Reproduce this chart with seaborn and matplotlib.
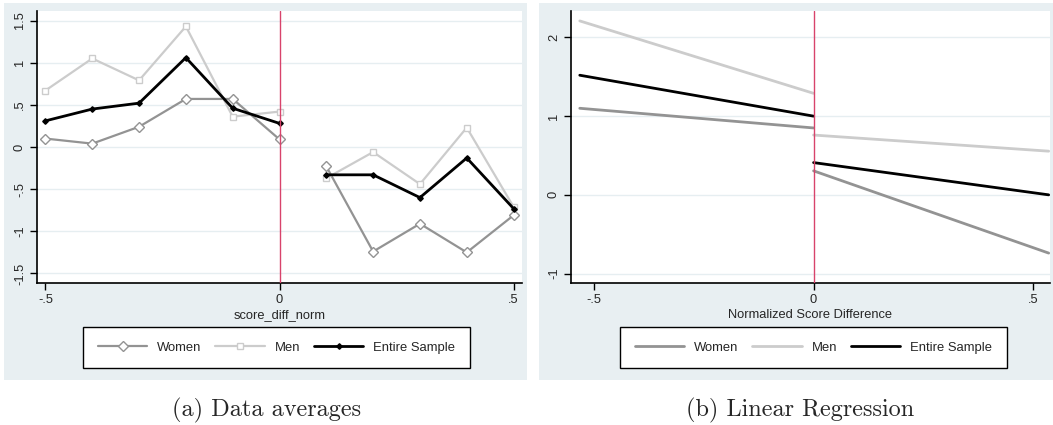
import numpy as np
import pandas as pd
import seaborn as sns
import matplotlib.pyplot as plt
from matplotlib.patches import Rectangle
from matplotlib.lines import Line2D

# panel (a): bin averages left and right of the cutoff
x_left = [-0.5, -0.4, -0.3, -0.2, -0.1, 0.0]
x_right = [0.1, 0.2, 0.3, 0.4, 0.5]
women_left = [0.10, 0.04, 0.24, 0.57, 0.57, 0.09]
women_right = [-0.23, -1.24, -0.91, -1.25, -0.81]
men_left = [0.67, 1.05, 0.79, 1.43, 0.36, 0.42]
men_right = [-0.37, -0.06, -0.44, 0.23, -0.71]
all_left = [0.31, 0.45, 0.52, 1.06, 0.46, 0.28]
all_right = [-0.33, -0.33, -0.60, -0.13, -0.73]

# panel (b): fitted lines, endpoints on each side
fit_x_left = [-0.533, 0.0]
fit_x_right = [0.0, 0.536]
women_fit_left = [1.10, 0.85]
women_fit_right = [0.305, -0.74]
men_fit_left = [2.21, 1.29]
men_fit_right = [0.76, 0.555]
all_fit_left = [1.52, 1.00]
all_fit_right = [0.41, 0.0]

series_names = ["Women", "Men", "Entire Sample"]
yticks_a = [-1.5, -1, -0.5, 0, 0.5, 1, 1.5]
yticklabels_a = ["-1.5", "-1", "-.5", "0", ".5", "1", "1.5"]
yticks_b = [-1, 0, 1, 2]
yticklabels_b = ["-1", "0", "1", "2"]
xticks = [-0.5, 0, 0.5]
xticklabels = ["-.5", "0", ".5"]

sns.set_style("white")
plt.rcParams["font.family"] = ["Liberation Sans", "DejaVu Sans"]

W, H = 1053, 425
colors = {"Women": "#939393", "Men": "#cccccc", "Entire Sample": "#000000"}
markers = {"Women": "D", "Men": "s", "Entire Sample": "D"}
msizes = {"Women": 4.6, "Men": 4.8, "Entire Sample": 2.8}
bg = "#e8eff2"
grid_c = "#e6eef1"
cut_c = "#d8436b"

fig = plt.figure(figsize=(W / 100, H / 100), dpi=100)
fig.patch.set_facecolor("white")


def px_box(x0, y0, x1, y1):
    return [x0 / W, 1 - y1 / H, (x1 - x0) / W, (y1 - y0) / H]


for x0, x1 in [(4, 527), (539, 1053)]:
    b = px_box(x0, 3, x1, 380)
    fig.patches.append(Rectangle((b[0], b[1]), b[2], b[3], transform=fig.transFigure,
                                 facecolor=bg, edgecolor="none", zorder=-1))

ax1 = fig.add_axes(px_box(37, 11, 522, 283))
ax2 = fig.add_axes(px_box(571, 11, 1050, 283))

# panel (a)
avg = {
    "Women": (women_left, women_right),
    "Men": (men_left, men_right),
    "Entire Sample": (all_left, all_right),
}
for name in series_names:
    yl, yr = avg[name]
    for xs, ys in [(x_left, yl), (x_right, yr)]:
        filled = name == "Entire Sample"
        sns.lineplot(x=xs, y=ys, ax=ax1, color=colors[name], lw=2 if filled else 1.6,
                     marker=markers[name], markersize=msizes[name],
                     markerfacecolor=colors[name] if filled else "white",
                     markeredgecolor=colors[name], markeredgewidth=1,
                     zorder=3 if filled else 2)

# panel (b)
fits = {
    "Women": (women_fit_left, women_fit_right),
    "Men": (men_fit_left, men_fit_right),
    "Entire Sample": (all_fit_left, all_fit_right),
}
for name in series_names:
    yl, yr = fits[name]
    for xs, ys in [(fit_x_left, yl), (fit_x_right, yr)]:
        sns.lineplot(x=xs, y=ys, ax=ax2, color=colors[name], lw=2,
                     zorder=3 if name == "Entire Sample" else 2)

for ax, lims, yt, ytl, xl, xlab in [
    (ax1, (-1.613, 1.613), yticks_a, yticklabels_a, (-0.518, 0.518), "score_diff_norm"),
    (ax2, (-1.12, 2.336), yticks_b, yticklabels_b, (-0.553, 0.539), "Normalized Score Difference"),
]:
    ax.set_facecolor("white")
    ax.set_ylim(*lims)
    ax.set_xlim(*xl)
    ax.set_yticks(yt)
    ax.set_yticklabels(ytl)
    ax.set_xticks(xticks)
    ax.set_xticklabels(xticklabels)
    for t in yt:
        ax.axhline(t, color=grid_c, lw=1, zorder=0)
    ax.axvline(0, color=cut_c, lw=1, zorder=4)
    for s in ["top", "right"]:
        ax.spines[s].set_visible(False)
    for s in ["left", "bottom"]:
        ax.spines[s].set_color("black")
        ax.spines[s].set_linewidth(1.2)
    ax.tick_params(axis="both", direction="out", length=5, width=1, color="black",
                   labelsize=9.3, pad=3, bottom=True, left=True)
    plt.setp(ax.get_yticklabels(), rotation=90, va="center")
    ax.set_xlabel(xlab, fontsize=9.3, labelpad=2)
    ax.set_ylabel("")

# legends
h_a = [Line2D([], [], color=colors[n], lw=2 if n == "Entire Sample" else 1.6,
              marker=markers[n], markersize=msizes[n],
              markerfacecolor=colors[n] if n == "Entire Sample" else "white",
              markeredgecolor=colors[n]) for n in series_names]
h_b = [Line2D([], [], color=colors[n], lw=2) for n in series_names]

for handles, cx in [(h_a, 276.5), (h_b, 813.5)]:
    leg = fig.legend(handles, series_names, loc="center", ncol=3,
                     bbox_to_anchor=(cx / W, 1 - 347.5 / H), fontsize=9.4,
                     frameon=True, fancybox=False, edgecolor="black", framealpha=1,
                     handlelength=3.8, handletextpad=0.75, columnspacing=1.05,
                     borderpad=1.1, borderaxespad=0)
    leg.get_frame().set_linewidth(1)
    leg.get_frame().set_facecolor("white")

fig.text(267 / W, 1 - 410 / H, "(a) Data averages", family="cmr10", fontsize=17.5,
         ha="center", va="center")
fig.text(800 / W, 1 - 410 / H, "(b) Linear Regression", family="cmr10", fontsize=17.5,
         ha="center", va="center")

fig.savefig("out.png", dpi=100)
